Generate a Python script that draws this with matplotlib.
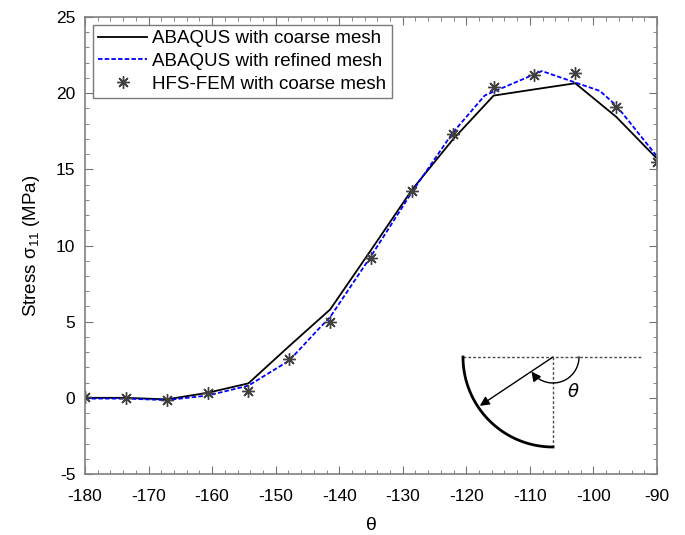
import numpy as np
import matplotlib.pyplot as plt
from matplotlib.ticker import MultipleLocator

plt.rcParams['font.family'] = ['Liberation Sans', 'DejaVu Sans']
plt.rcParams['axes.unicode_minus'] = False

# === Data ===
theta_nodes = [-180, -173.57, -167.14, -160.71, -154.29, -147.86, -141.43, -135,
               -128.57, -122.14, -115.71, -109.29, -102.86, -96.43, -90]
abaqus_coarse = [0.0, 0.0, -0.1, 0.33, 0.95, 3.4, 5.8, 9.7,
                 13.65, 16.95, 19.84, 20.25, 20.65, 18.45, 15.7]

theta_refined = [-180, -173.57, -167.14, -160.71, -154.29, -147.86, -143.4, -141.43,
                 -135, -128.57, -122.14, -117.1, -115.71, -108.1, -102.86, -99.0,
                 -96.43, -90]
abaqus_refined = [-0.05, -0.05, -0.15, 0.15, 0.8, 2.45, 4.45, 5.3,
                  9.3, 13.5, 17.4, 19.85, 20.1, 21.45, 20.7, 20.15,
                  19.2, 15.85]

hfs_fem = [0.05, 0.0, -0.17, 0.3, 0.45, 2.55, 5.0, 9.2,
           13.6, 17.3, 20.38, 21.17, 21.35, 19.1, 15.46]

# === Figure ===
fig = plt.figure(figsize=(6.85, 5.35), dpi=100)
ax = fig.add_axes([85 / 685, 1 - 474 / 535, 572 / 685, 457 / 535])

ax.plot(theta_nodes, abaqus_coarse, '-', color='black', lw=1.3,
        label='ABAQUS with coarse mesh')
ax.plot(theta_refined, abaqus_refined, '--', color='blue', lw=1.3,
        dashes=(2.5, 1.2), label='ABAQUS with refined mesh')
ax.plot(theta_nodes, hfs_fem, ls='none', marker=(8, 2, 0), ms=9, mew=1.0,
        color='0.25', label='HFS-FEM with coarse mesh')

ax.set_xlim(-180, -90)
ax.set_ylim(-5, 25)
ax.xaxis.set_major_locator(MultipleLocator(10))
ax.xaxis.set_minor_locator(MultipleLocator(2))
ax.yaxis.set_major_locator(MultipleLocator(5))
ax.yaxis.set_minor_locator(MultipleLocator(1))
ax.tick_params(which='both', direction='in', top=True, right=True,
               color='0.45', labelsize=12.5)
ax.tick_params(axis='x', which='major', pad=11)
ax.tick_params(axis='y', which='major', pad=7)
ax.tick_params(which='major', length=6)
ax.tick_params(which='minor', length=3)
for sp in ax.spines.values():
    sp.set_color('0.5')
    sp.set_linewidth(1.2)

ax.set_xlabel(r'$\mathregular{\theta}$', fontsize=14, labelpad=9)
ax.set_ylabel(r'Stress $\mathregular{\sigma_{11}}$ (MPa)', fontsize=13.5, labelpad=10)

leg = ax.legend(loc='upper left', fontsize=13.5, frameon=True, fancybox=False,
                edgecolor='0.35', borderaxespad=0.4, handlelength=2.6,
                handletextpad=0.3, labelspacing=0.3, borderpad=0.3)
leg.get_frame().set_linewidth(1.0)

# === Inset sketch of the angle (pixel coordinates) ===
ins = fig.add_axes([455 / 685, 1 - 455 / 535, 195 / 685, 110 / 535])
ins.set_xlim(455, 650)
ins.set_ylim(455, 345)
ins.axis('off')
cx, cy, r = 553, 357, 90
ins.plot([463, 642], [cy, cy], color='0.3', lw=1.0, ls=(0, (2, 1.5)))
ins.plot([cx, cx], [cy, cy + r], color='0.3', lw=1.0, ls=(0, (2, 1.5)))
a = np.radians(np.linspace(180, 270, 60))
ins.plot(cx + r * np.cos(a), cy - r * np.sin(a), color='black', lw=2)
ang = np.radians(213.7)
ins.annotate('', xy=(cx + (r - 2) * np.cos(ang), cy - (r - 2) * np.sin(ang)),
             xytext=(cx, cy),
             arrowprops=dict(arrowstyle='-|>', color='black', lw=1.0,
                             mutation_scale=14, shrinkA=0, shrinkB=0))
rs = 26
b = np.radians(np.linspace(0, -140, 60))
ins.plot(cx + rs * np.cos(b), cy - rs * np.sin(b), color='black', lw=1.0)
e1 = np.radians(-140)
e2 = np.radians(-146)
ins.annotate('', xy=(cx + rs * np.cos(e2), cy - rs * np.sin(e2)),
             xytext=(cx + rs * np.cos(e1), cy - rs * np.sin(e1)),
             arrowprops=dict(arrowstyle='-|>', color='black', lw=1.0,
                             mutation_scale=14, shrinkA=0, shrinkB=0))
ins.text(573, 392, r'$\theta$', fontsize=13, ha='center', va='center')

fig.savefig('out.png', dpi=100)
